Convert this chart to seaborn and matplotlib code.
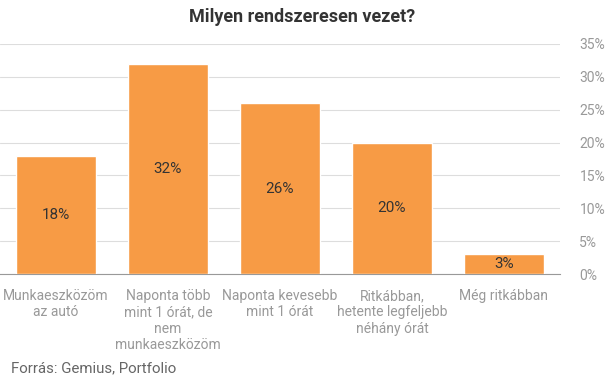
import seaborn as sns
import matplotlib.pyplot as plt
import pandas as pd

categories = [
    "Munkaeszközöm\naz autó",
    "Naponta több\nmint 1 órát, de\nnem\nmunkaeszközöm",
    "Naponta kevesebb\nmint 1 órát",
    "Ritkábban,\nhetente legfeljebb\nnéhány órát",
    "Még ritkábban",
]
values = [18, 32, 26, 20, 3]
yticks = [0, 5, 10, 15, 20, 25, 30, 35]

sns.set_style("white")
plt.rcParams["font.family"] = ["Roboto", "DejaVu Sans"]

df = pd.DataFrame({"kat": categories, "ertek": values})

fig = plt.figure(figsize=(6.05, 3.78), dpi=100)
ax = fig.add_axes([0.0, 0.2751, 0.9256, 0.6085])

sns.barplot(data=df, x="kat", y="ertek", color="#F79B45", saturation=1,
            width=0.72, ax=ax, zorder=3)

for i, v in enumerate(values):
    ax.text(i, v / 2, f"{v}%", ha="center", va="center",
            fontsize=11, color="#333333", zorder=4)

ax.set_ylim(0, 35)
ax.set_yticks(yticks)
ax.set_yticklabels([f"{t}%" for t in yticks])
ax.yaxis.tick_right()
ax.grid(axis="y", color="#dddddd", linewidth=0.8, zorder=0)
ax.tick_params(axis="y", length=0, pad=14, labelsize=10, labelcolor="#999999")
ax.tick_params(axis="x", length=0, pad=11, labelsize=10, labelcolor="#999999")
ax.set_xlabel("")
ax.set_ylabel("")
for s in ["top", "left", "right"]:
    ax.spines[s].set_visible(False)
ax.spines["bottom"].set_color("#999999")
ax.spines["bottom"].set_linewidth(0.8)

fig.text(0.5, 0.955, "Milyen rendszeresen vezet?", ha="center", va="center",
         fontsize=13, fontweight="bold", color="#333333")
fig.text(0.018, 0.026, "Forrás: Gemius, Portfolio", ha="left", va="center",
         fontsize=10.8, color="#666666")

fig.savefig("out.png", dpi=100)
